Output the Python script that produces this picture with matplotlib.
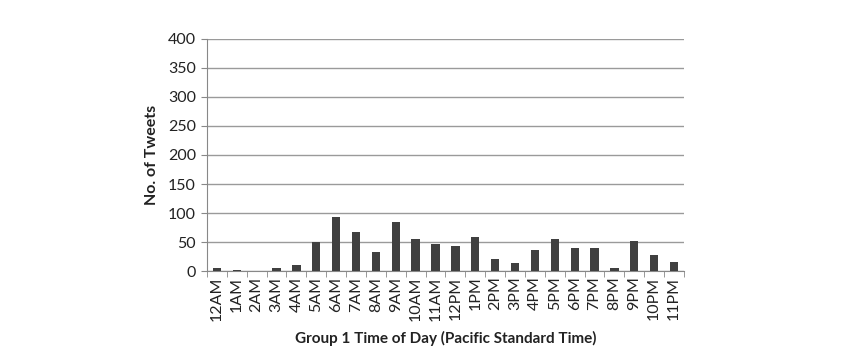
import matplotlib
matplotlib.use("Agg")
import matplotlib.pyplot as plt
import numpy as np

hours = ["12AM", "1AM", "2AM", "3AM", "4AM", "5AM", "6AM", "7AM", "8AM", "9AM", "10AM", "11AM",
         "12PM", "1PM", "2PM", "3PM", "4PM", "5PM", "6PM", "7PM", "8PM", "9PM", "10PM", "11PM"]
tweets = [5, 2, 0, 6, 11, 50, 93, 67, 33, 84, 55, 47,
          43, 59, 21, 13, 37, 56, 39, 39, 6, 51, 27, 16]
yticks = [0, 50, 100, 150, 200, 250, 300, 350, 400]

plt.rcParams['font.family'] = ['Lato', 'DejaVu Sans']

fig = plt.figure(figsize=(8.5, 3.6), dpi=100)
ax = fig.add_axes([0.2435, 0.2472, 0.5612, 0.6445])

x = np.arange(len(hours))
ax.bar(x, tweets, width=0.42, color="#404040", zorder=3)

ax.set_ylim(0, 400)
ax.set_xlim(-0.5, len(hours) - 0.5)
ax.set_yticks(yticks)
ax.set_yticklabels([str(v) for v in yticks], fontsize=11.5, color="#222222")
ax.yaxis.grid(True, color="#9a9a9a", linewidth=1.0, zorder=0)

ax.set_xticks(x)
ax.set_xticklabels(hours, rotation=90, fontsize=11.5, color="#222222")
ax.tick_params(axis='x', length=0, pad=4)
ax.set_xticks(np.arange(-0.5, len(hours)), minor=True)
ax.tick_params(axis='x', which='minor', length=4, color="#888888")
ax.tick_params(axis='y', length=4, color="#888888", pad=4)

for s in ['top', 'right']:
    ax.spines[s].set_visible(False)
ax.spines['left'].set_color("#888888")
ax.spines['bottom'].set_color("#888888")

ax.set_ylabel("No. of Tweets", fontsize=11.5, fontweight='bold', labelpad=6, color="#222222")
ax.set_xlabel("Group 1 Time of Day (Pacific Standard Time)", fontsize=11, fontweight='bold',
              labelpad=7, color="#222222")

fig.savefig("out.png", dpi=100)
